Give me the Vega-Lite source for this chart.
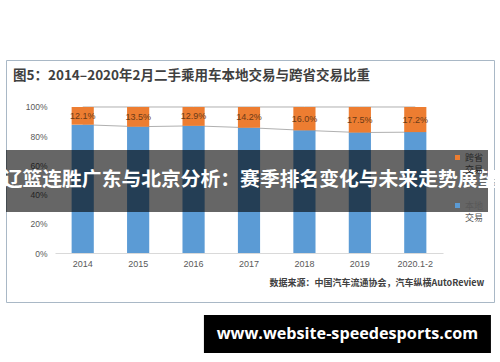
{
  "$schema": "https://vega.github.io/schema/vega-lite/v6.json",
  "width": 488,
  "height": 242,
  "autosize": "none",
  "padding": {"left": 6, "top": 60, "right": 6, "bottom": 60},
  "background": "white",
  "title": {
    "text": "图5：2014–2020年2月二手乘用车本地交易与跨省交易比重",
    "anchor": "start",
    "frame": "group",
    "orient": "top",
    "offset": -22,
    "dx": 7,
    "font": "Noto Sans CJK SC",
    "fontSize": 13.5,
    "fontWeight": "bold",
    "color": "#404040"
  },
  "data": {
    "values": [
      {"year": "2014", "type": "本地交易", "share": 0.879},
      {"year": "2014", "type": "跨省交易", "share": 0.121},
      {"year": "2015", "type": "本地交易", "share": 0.865},
      {"year": "2015", "type": "跨省交易", "share": 0.135},
      {"year": "2016", "type": "本地交易", "share": 0.871},
      {"year": "2016", "type": "跨省交易", "share": 0.129},
      {"year": "2017", "type": "本地交易", "share": 0.858},
      {"year": "2017", "type": "跨省交易", "share": 0.142},
      {"year": "2018", "type": "本地交易", "share": 0.840},
      {"year": "2018", "type": "跨省交易", "share": 0.160},
      {"year": "2019", "type": "本地交易", "share": 0.825},
      {"year": "2019", "type": "跨省交易", "share": 0.175},
      {"year": "2020.1-2", "type": "本地交易", "share": 0.828},
      {"year": "2020.1-2", "type": "跨省交易", "share": 0.172}
    ]
  },
  "layer": [
    {
      "transform": [{"filter": "datum.type === '本地交易'"}],
      "mark": {"type": "line", "color": "#B0B0B0", "strokeWidth": 1},
      "encoding": {
        "x": {
          "field": "year",
          "type": "nominal",
          "sort": null,
          "scale": {"range": [49, 437], "paddingInner": 0.6, "paddingOuter": 0.3},
          "axis": {
            "title": null,
            "orient": "bottom",
            "offset": -49,
            "ticks": false,
            "domainColor": "#D9D9D9",
            "labelAngle": 0,
            "labelPadding": 6,
            "labelFontSize": 9,
            "labelColor": "#595959",
            "labelFont": "Liberation Sans"
          }
        },
        "y": {
          "datum": 1,
          "type": "quantitative",
          "scale": {"domain": [-0.3356, 1.3219], "nice": false, "zero": false},
          "axis": {
            "title": null,
            "offset": -49,
            "ticks": false,
            "domain": false,
            "grid": false,
            "values": [0, 0.1, 0.2, 0.3, 0.4, 0.5, 0.6, 0.7, 0.8, 0.9, 1],
            "format": ".0%",
            "labelPadding": 8,
            "labelFontSize": 8.5,
            "labelColor": "#595959",
            "labelFont": "Liberation Sans"
          }
        }
      }
    },
    {
      "transform": [{"filter": "datum.type === '本地交易'"}],
      "mark": {"type": "line", "color": "#B0B0B0", "strokeWidth": 1},
      "encoding": {
        "x": {"field": "year", "type": "nominal", "sort": null},
        "y": {"field": "share", "type": "quantitative"}
      }
    },
    {
      "mark": {"type": "bar"},
      "encoding": {
        "x": {"field": "year", "type": "nominal", "sort": null},
        "y": {"field": "share", "type": "quantitative", "stack": "zero"},
        "color": {
          "field": "type",
          "type": "nominal",
          "scale": {"domain": ["跨省交易", "本地交易"], "range": ["#ED7D31", "#5B9BD5"]},
          "legend": {
            "title": null,
            "orient": "none",
            "legendX": 447,
            "legendY": 93,
            "padding": 0,
            "symbolType": "square",
            "symbolSize": 25,
            "symbolStrokeWidth": 0,
            "labelFont": "Noto Sans CJK SC",
            "labelFontSize": 9,
            "labelColor": "#595959",
            "labelOffset": 3,
            "rowPadding": 26,
            "labelExpr": "[slice(datum.label, 0, 2), slice(datum.label, 2)]",
            "encode": {
              "labels": {"update": {
                "fill": {"signal": "datum.label === '跨省交易' ? '#252525' : '#595959'"},
                "lineHeight": {"value": 12.5}
              }},
              "symbols": {"update": {"fill": {"signal": "datum.label === '跨省交易' ? '#5E3214' : '#2A4A66'"}}}
            }
          }
        },
        "order": {"field": "type", "sort": "ascending"}
      }
    },
    {
      "transform": [{"filter": "datum.type === '跨省交易'"}],
      "mark": {"type": "text", "baseline": "middle", "align": "center", "font": "Liberation Sans", "fontSize": 9, "color": "#6B3A17"},
      "encoding": {
        "x": {"field": "year", "type": "nominal", "sort": null},
        "y": {"datum": 1, "type": "quantitative"},
        "yOffset": {"field": "share", "type": "quantitative", "scale": {"domain": [0, 1], "range": [0, 73]}},
        "text": {"field": "share", "type": "quantitative", "format": ".1%"}
      }
    },
    {
      "data": {"values": [{"label": "数据来源：中国汽车流通协会，汽车纵横AutoReview"}]},
      "mark": {"type": "text", "align": "right", "baseline": "middle", "dx": 69, "font": "Noto Sans CJK SC", "fontSize": 9, "fontWeight": "bold", "color": "#404040"},
      "encoding": {
        "x": {"datum": "2020.1-2"},
        "y": {"datum": -0.2055, "type": "quantitative"},
        "text": {"field": "label"}
      }
    },
    {
      "data": {"values": [{"label": "辽篮连胜广东与北京分析：赛季排名变化与未来走势展望"}]},
      "mark": {"type": "rect", "color": "#000000", "opacity": 0.6, "xOffset": -6, "x2Offset": 6},
      "encoding": {
        "y": {"datum": 0.7055, "type": "quantitative"},
        "y2": {"datum": 0.2808}
      }
    },
    {
      "data": {"values": [{"label": "辽篮连胜广东与北京分析：赛季排名变化与未来走势展望"}]},
      "mark": {"type": "text", "align": "center", "baseline": "middle", "font": "Noto Sans CJK SC", "fontSize": 19.8, "fontWeight": "bold", "color": "#FFFFFF"},
      "encoding": {
        "y": {"datum": 0.5, "type": "quantitative"},
        "text": {"field": "label"}
      }
    },
    {
      "data": {"values": [{"label": "www.website-speedesports.com"}]},
      "mark": {"type": "bar", "color": "#000000", "width": 287, "xOffset": 43},
      "encoding": {
        "x": {"datum": "2018"},
        "y": {"datum": -0.4247, "type": "quantitative"},
        "y2": {"datum": -0.6849}
      }
    },
    {
      "data": {"values": [{"label": "www.website-speedesports.com"}]},
      "mark": {"type": "text", "align": "center", "baseline": "middle", "dx": 43, "font": "Open Sans", "fontSize": 16.2, "fontWeight": "bold", "color": "#FFFFFF"},
      "encoding": {
        "x": {"datum": "2018"},
        "y": {"datum": -0.5548, "type": "quantitative"},
        "text": {"field": "label"}
      }
    }
  ],
  "config": {
    "view": {"stroke": "#A9B8C6", "strokeWidth": 1}
  }
}
